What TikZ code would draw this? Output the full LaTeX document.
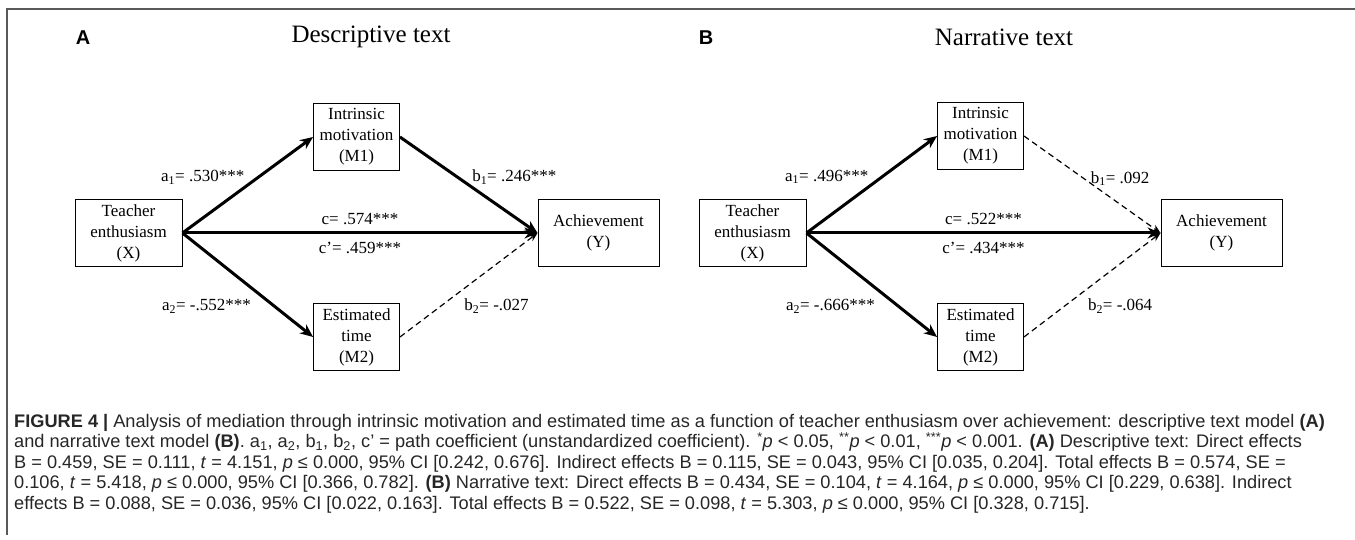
\documentclass[tikz,border=0pt]{standalone}
\usepackage{fontspec}
\setmainfont{Liberation Serif}
\newfontfamily\capfont{Liberation Sans}
\usetikzlibrary{positioning, arrows.meta}

\tikzstyle{var} = [rectangle, draw=black, line width=0.9pt, text centered,
align=center, inner sep=3pt, minimum height=67pt, font=\fontsize{17}{21}\selectfont]
\tikzstyle{coef} = [inner sep=2pt, font=\fontsize{17}{20}\selectfont]
\tikzstyle{heading} = [font=\fontsize{25}{28}\selectfont]
\tikzstyle{panel} = [font=\capfont\bfseries\fontsize{20}{22}\selectfont]
\tikzstyle{arrow} = [line width=3pt, -{Stealth[length=13pt, width=11pt]}]
\tikzstyle{nsarrow} = [line width=1.2pt, dash pattern=on 6pt off 4pt,
-{Stealth[length=9pt, width=7pt]}]
\tikzstyle{frame} = [line width=1.6pt, draw=black!65]

\begin{document}
\begin{tikzpicture}[x=1pt, y=-1pt, node distance=228pt]
  \useasboundingbox (0,0) rectangle (1355,540);
  \draw [frame] (7,535) -- (7,9) -- (1355,9);

  % panel A
  \node (letA) [panel] at (83,38) {A};
  \node (titleA) [heading] at (371,37) {Descriptive text};
  \node (teachA) [var, minimum width=107pt] at (128.5,233) {Teacher\\enthusiasm\\(X)};
  \node (motA) [var, right of=teachA, yshift=96pt, minimum width=86pt] {Intrinsic\\motivation\\(M1)};
  \node (timeA) [var, right of=teachA, yshift=-104pt, minimum width=86pt] {Estimated\\time\\(M2)};
  \node (achA) [var, right of=teachA, xshift=242pt, minimum width=121pt] {Achievement\\(Y)};

  \draw [arrow] (teachA.east) -- node[coef, pos=0.5, anchor=south east, yshift=-3pt] {a\textsubscript{1}= .530***} (motA.west);
  \draw [arrow] (motA.east) -- node[coef, pos=0.5, anchor=south west, yshift=-3pt] {b\textsubscript{1}= .246***} (achA.west);
  \draw [arrow] (teachA.east) -- node[coef, above=5pt] {c= .574***} node[coef, below=6pt] {c’= .459***} (achA.west);
  \draw [arrow] (teachA.east) -- node[coef, pos=0.55, anchor=north east, yshift=-6pt] {a\textsubscript{2}= -.552***} (timeA.west);
  \draw [nsarrow] (timeA.east) -- node[coef, pos=0.45, anchor=north west, yshift=-6pt] {b\textsubscript{2}= -.027} (achA.west);

  % panel B
  \node (letB) [panel] at (706,38) {B};
  \node (titleB) [heading] at (1004,37) {Narrative text};
  \node (teachB) [var, right of=teachA, xshift=396pt, minimum width=107pt] {Teacher\\enthusiasm\\(X)};
  \node (motB) [var, right of=teachB, yshift=97pt, minimum width=86pt] {Intrinsic\\motivation\\(M1)};
  \node (timeB) [var, right of=teachB, yshift=-104pt, minimum width=86pt] {Estimated\\time\\(M2)};
  \node (achB) [var, right of=teachB, xshift=241pt, minimum width=121pt] {Achievement\\(Y)};

  \draw [arrow] (teachB.east) -- node[coef, pos=0.5, anchor=south east, yshift=-3pt] {a\textsubscript{1}= .496***} (motB.west);
  \draw [nsarrow] (motB.east) -- node[coef, pos=0.5, anchor=south west, xshift=-4pt, yshift=-4pt] {b\textsubscript{1}= .092} (achB.west);
  \draw [arrow] (teachB.east) -- node[coef, above=5pt] {c= .522***} node[coef, below=6pt] {c’= .434***} (achB.west);
  \draw [arrow] (teachB.east) -- node[coef, pos=0.55, anchor=north east, yshift=-6pt] {a\textsubscript{2}= -.666***} (timeB.west);
  \draw [nsarrow] (timeB.east) -- node[coef, pos=0.45, anchor=north west, yshift=-6pt] {b\textsubscript{2}= -.064} (achB.west);

  % caption
  \node (caption) [anchor=north west, align=left, inner sep=0pt, text=black!85,
    font=\capfont\fontsize{18.2}{20.5}\selectfont] at (14,414) {%
    \textbf{FIGURE 4 |} Analysis of mediation through intrinsic motivation and estimated time as a function of teacher enthusiasm over achievement: descriptive text model \textbf{(A)}\\
    and narrative text model \textbf{(B)}. a\textsubscript{1}, a\textsubscript{2}, b\textsubscript{1}, b\textsubscript{2}, c’ = path coefficient (unstandardized coefficient). \textsuperscript{*}\textit{p} < 0.05, \textsuperscript{**}\textit{p} < 0.01, \textsuperscript{***}\textit{p} < 0.001. \textbf{(A)} Descriptive text: Direct effects\\
    B = 0.459, SE = 0.111, \textit{t} = 4.151, \textit{p} ≤ 0.000, 95\% CI [0.242, 0.676]. Indirect effects B = 0.115, SE = 0.043, 95\% CI [0.035, 0.204]. Total effects B = 0.574, SE =\\
    0.106, \textit{t} = 5.418, \textit{p} ≤ 0.000, 95\% CI [0.366, 0.782]. \textbf{(B)} Narrative text: Direct effects B = 0.434, SE = 0.104, \textit{t} = 4.164, \textit{p} ≤ 0.000, 95\% CI [0.229, 0.638]. Indirect\\
    effects B = 0.088, SE = 0.036, 95\% CI [0.022, 0.163]. Total effects B = 0.522, SE = 0.098, \textit{t} = 5.303, \textit{p} ≤ 0.000, 95\% CI [0.328, 0.715].};
\end{tikzpicture}
\end{document}
